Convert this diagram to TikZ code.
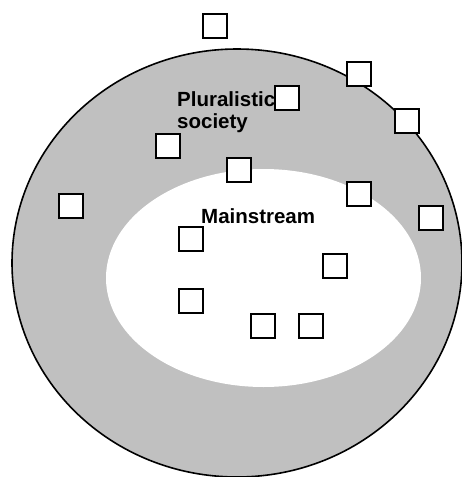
\documentclass[tikz,border=0pt]{standalone}
\usepackage{fontspec}
\setmainfont{Liberation Sans}
\definecolor{ringgray}{RGB}{192,192,192}
\begin{document}
\begin{tikzpicture}[x=1pt,y=-1pt,
  member/.style={draw=black,fill=white,line width=1.6pt,minimum size=24pt,inner sep=0pt,outer sep=0pt},
  lbl/.style={font=\fontsize{20.5}{22}\selectfont\bfseries,inner sep=0pt,align=left},
  ring/.style={fill=ringgray,draw=black,line width=1.6pt}]
\useasboundingbox (0,0) rectangle (462,477);
% outer ellipse: pluralistic society
\path[ring] (237,263) ellipse [x radius=225, y radius=214];
% inner ellipse: mainstream
\path[fill=white] (263.5,278) ellipse [x radius=157.5, y radius=109];
% labels
\node[lbl,anchor=base west] (plural) at (177,128) {Pluralistic\\society};
\node[lbl,anchor=base west] (main) at (201,223) {Mainstream};
% individuals
\node[member] (s1) at (215,26) {};
\node[member] (s2) at (359,74) {};
\node[member] (s3) at (287,98) {};
\node[member] (s4) at (407,121) {};
\node[member] (s5) at (168,146) {};
\node[member] (s6) at (239,170) {};
\node[member] (s7) at (71,206) {};
\node[member] (s8) at (359,194) {};
\node[member] (s9) at (431,218) {};
\node[member] (s10) at (191,239) {};
\node[member] (s11) at (335,266) {};
\node[member] (s12) at (191,301) {};
\node[member] (s13) at (263,326) {};
\node[member] (s14) at (311,326) {};
\end{tikzpicture}
\end{document}
